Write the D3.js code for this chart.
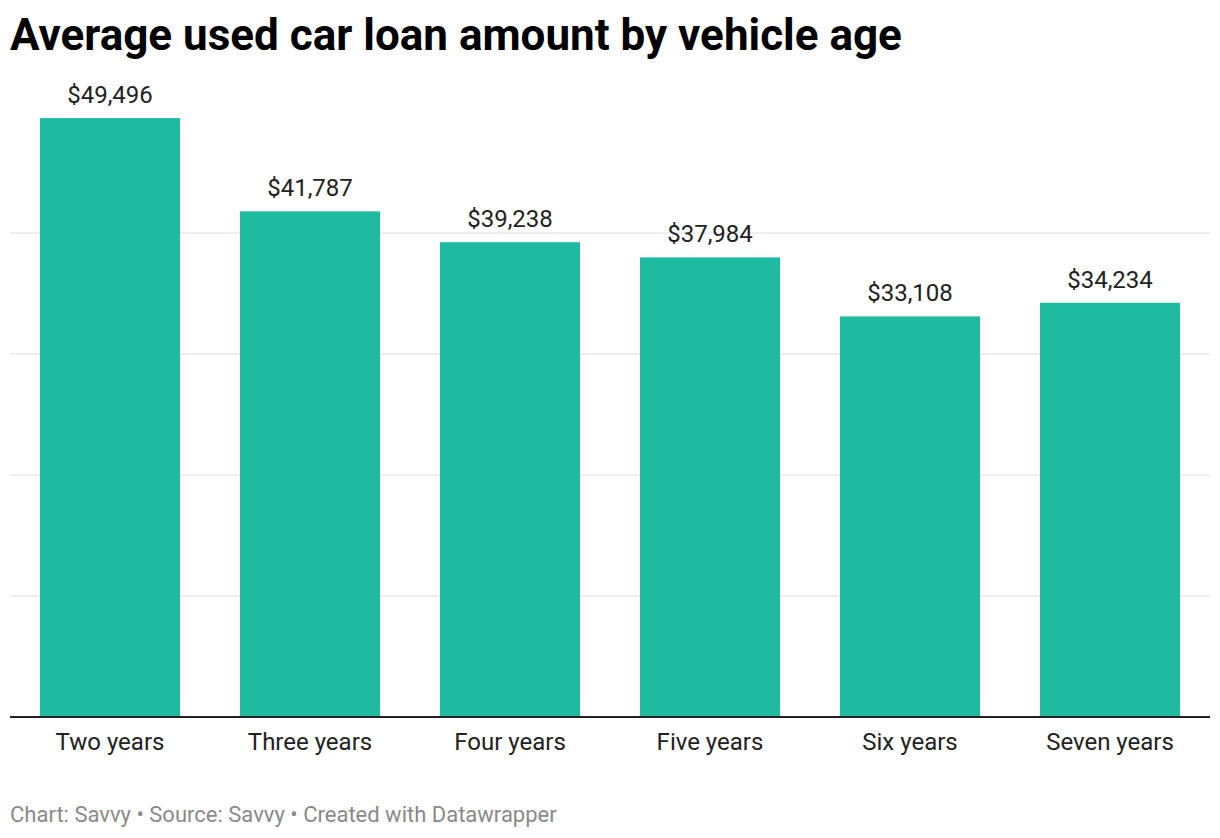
<!DOCTYPE html>
<html>
<head>
<meta charset="utf-8">
<script src="https://cdn.jsdelivr.net/npm/d3@7"></script>
<style>
  body { margin: 0; background: #fff; font-family: Roboto, sans-serif; }
  svg text { font-family: Roboto, sans-serif; }
</style>
</head>
<body>
<script>
// data
var categories = ["Two years", "Three years", "Four years", "Five years", "Six years", "Seven years"];
var amounts = [49496, 41787, 39238, 37984, 33108, 34234];
var gridTicks = [10000, 20000, 30000, 40000];

var W = 1220, H = 838;
var left = 10, right = 1210, base = 717;

var svg = d3.select("body").append("svg").attr("width", W).attr("height", H);

svg.append("text").attr("x", 10).attr("y", 50)
  .attr("font-size", 44).attr("font-weight", 700).attr("fill", "#000")
  .text("Average used car loan amount by vehicle age");

var x = d3.scaleBand().domain(categories).range([left, right]).paddingInner(0.3).paddingOuter(0.15);
var y = d3.scaleLinear().domain([0, 10000]).range([base, base - 121]);

svg.append("g").selectAll("line").data(gridTicks).join("line")
  .attr("x1", left).attr("x2", right)
  .attr("y1", d => y(d)).attr("y2", d => y(d))
  .attr("stroke", "#dedede").attr("stroke-width", 1);

var rows = categories.map((c, i) => ({cat: c, val: amounts[i]}));

svg.append("g").selectAll("rect").data(rows).join("rect")
  .attr("x", d => x(d.cat)).attr("width", x.bandwidth())
  .attr("y", d => y(d.val)).attr("height", d => base - y(d.val))
  .attr("fill", "#1fbba1");

svg.append("g").selectAll("text").data(rows).join("text")
  .attr("x", d => x(d.cat) + x.bandwidth() / 2).attr("y", d => y(d.val) - 15)
  .attr("text-anchor", "middle").attr("font-size", 24).attr("fill", "#222")
  .text(d => "$" + d3.format(",")(d.val));

svg.append("line").attr("x1", left).attr("x2", right).attr("y1", base).attr("y2", base)
  .attr("stroke", "#222").attr("stroke-width", 2);

svg.append("g").selectAll("text").data(categories).join("text")
  .attr("x", d => x(d) + x.bandwidth() / 2).attr("y", 750)
  .attr("text-anchor", "middle").attr("font-size", 24).attr("fill", "#222")
  .text(d => d);

svg.append("text").attr("x", 10).attr("y", 822)
  .attr("font-size", 22).attr("fill", "#8a8a8a")
  .text("Chart: Savvy \u2022 Source: Savvy \u2022 Created with Datawrapper");
</script>
</body>
</html>
